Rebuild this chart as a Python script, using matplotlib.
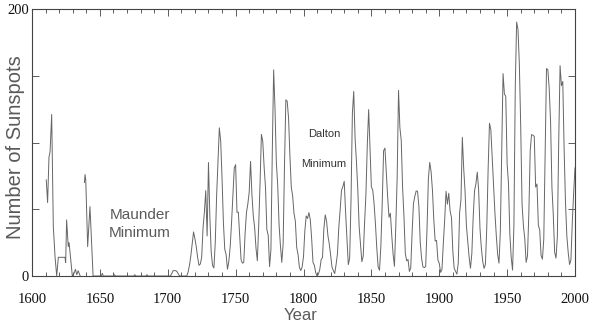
import numpy as np
import matplotlib.pyplot as plt

# Early telescopic era (irregular sampling, NaN = gap in the record)
early_years = [1610.5, 1611.5, 1612.5, 1613.3, 1614.5, 1615.7, 1617.0, 1618.2,
               1619.4, 1624.3, 1624.8, 1625.5, 1626.7, 1627.3, 1628.0, 1629.7,
               1631.0, 1632.0, 1633.0, 1634.0, 1635.5, 1636.5,
               1638.6, 1639.1, 1639.6, 1641.0, 1642.7, 1645.0,
               1651.0, 1651.8, 1652.5, 1660.0, 1660.7, 1661.5, 1675.0, 1675.7,
               1676.5, 1684.0, 1684.7, 1685.5, 1699.5]
early_spots = [72, 55, 89, 93, 121, 37, 14, 0,
               14, 14, 10, 42, 22, 25, 18, 0,
               2, 5, 1, 4, 0, np.nan,
               70, 76, 72, 22, 52, 0,
               0, 2, 0, 0, 1, 0, 0, 1,
               0, 0, 1, 0, 0]

# Yearly values 1700-2000
years = np.arange(1700, 2001)
spots = [
    0, 0, 0, 2, 4, 4, 4, 3, 1, 0,                                   # 1700
    0, 0, 0, 0, 0, 3, 8, 15, 24, 33,                                # 1710
    28, 22, 14, 8, 9, 14, 36, 48, 64, 30,                           # 1720
    85, 45, 18, 8, 6, 25, 60, 85, 111, 101,                         # 1730
    73, 40, 20, 16, 5, 11, 22, 40, 60, 80.9,                        # 1740
    83.4, 47.7, 47.8, 30.7, 12.2, 9.6, 10.2, 32.4, 47.6, 54.0,      # 1750
    62.9, 85.9, 61.2, 45.1, 36.4, 20.9, 11.4, 37.8, 69.8, 106.1,    # 1760
    100.8, 81.6, 66.5, 34.8, 30.6, 7.0, 19.8, 92.5, 154.4, 125.9,   # 1770
    84.8, 68.1, 38.5, 22.8, 10.2, 24.1, 82.9, 132.0, 130.9, 118.1,  # 1780
    89.9, 66.6, 60.0, 46.9, 41.0, 21.3, 16.0, 6.4, 4.1, 6.8,        # 1790
    14.5, 34.0, 45.0, 43.1, 47.5, 42.2, 28.1, 10.1, 8.1, 2.5,       # 1800
    0.0, 1.4, 5.0, 12.2, 13.9, 35.4, 45.8, 41.1, 30.1, 23.9,        # 1810
    15.6, 6.6, 4.0, 1.8, 8.5, 16.6, 36.3, 49.6, 64.2, 67.0,         # 1820
    70.9, 47.8, 27.5, 8.5, 13.2, 56.9, 121.5, 138.3, 103.2, 85.7,   # 1830
    64.6, 36.7, 24.2, 10.7, 15.0, 40.1, 61.5, 98.5, 124.7, 96.3,    # 1840
    66.6, 64.5, 54.1, 39.0, 20.6, 6.7, 4.3, 22.7, 54.8, 93.8,       # 1850
    95.8, 77.2, 59.1, 44.0, 47.0, 30.5, 16.3, 7.3, 37.6, 74.0,      # 1860
    139.0, 111.2, 101.6, 66.2, 44.7, 17.0, 11.3, 12.4, 3.4, 6.0,    # 1870
    32.3, 54.3, 59.7, 63.7, 63.5, 52.2, 25.4, 13.1, 6.8, 6.3,       # 1880
    7.1, 35.6, 73.0, 85.1, 78.0, 64.0, 41.8, 26.2, 26.7, 12.1,      # 1890
    9.5, 2.7, 5.0, 24.4, 42.0, 63.5, 53.8, 62.0, 48.5, 43.9,        # 1900
    18.6, 5.7, 3.6, 1.4, 9.6, 47.4, 57.1, 103.9, 80.6, 63.6,        # 1910
    37.6, 26.1, 14.2, 5.8, 16.7, 44.3, 63.9, 69.0, 77.8, 64.9,      # 1920
    35.7, 21.2, 11.1, 5.7, 8.7, 36.1, 79.7, 114.4, 109.6, 88.8,     # 1930
    67.8, 47.5, 30.6, 16.3, 9.6, 33.2, 92.6, 151.6, 136.3, 134.7,   # 1940
    83.9, 69.4, 31.5, 13.9, 4.4, 38.0, 141.7, 190.2, 184.8, 159.0,  # 1950
    112.3, 53.9, 37.6, 27.9, 10.2, 15.1, 47.0, 93.8, 105.9, 105.5,  # 1960
    104.5, 66.6, 68.9, 38.0, 34.5, 15.5, 12.6, 27.5, 92.5, 155.4,   # 1970
    154.6, 140.4, 115.9, 66.6, 45.9, 17.9, 13.4, 29.4, 100.2, 157.6,  # 1980
    142.6, 145.7, 94.3, 54.6, 29.9, 17.5, 8.6, 12.0, 40.0, 62.0,    # 1990
    81.0,                                                           # 2000
]

x_ticks = [1600, 1650, 1700, 1750, 1800, 1850, 1900, 1950, 2000]
y_ticks = [0, 50, 100, 150, 200]
y_tick_labels = ['0', '', '', '', '200']

grey = '#5a5a5a'
frame = '#444444'

fig = plt.figure(figsize=(5.89, 3.32), dpi=100)
ax = fig.add_axes([32 / 589, 56 / 332, 543 / 589, 267 / 332])

ax.plot(early_years, early_spots, color='#666666', linewidth=0.7)
ax.plot(years, spots, color='#666666', linewidth=0.7)

ax.set_xlim(1600, 2000)
ax.set_ylim(0, 200)

ax.set_xticks(x_ticks)
ax.set_xticks(np.arange(1600, 2001, 10), minor=True)
ax.set_yticks(y_ticks)
ax.set_yticklabels(y_tick_labels)

ax.tick_params(axis='both', which='both', direction='in', color=frame,
               top=True, right=True, width=0.6)
ax.tick_params(axis='both', which='major', length=5, labelsize=10.5,
               labelcolor='#111111')
ax.tick_params(axis='x', which='major', pad=12)
ax.tick_params(axis='y', which='major', pad=2)
ax.tick_params(axis='both', which='minor', length=3)
for lab in ax.get_xticklabels() + ax.get_yticklabels():
    lab.set_family('Liberation Serif')

for sp in ax.spines.values():
    sp.set_color(frame)
    sp.set_linewidth(0.8)

fig.text(16 / 589, 1 - 147 / 332, 'Number of Sunspots', rotation=90,
         ha='center', va='center', fontsize=14.5, color=grey,
         family='Liberation Sans')
fig.text(301 / 589, 1 - 315 / 332, 'Year', ha='center', va='center',
         fontsize=12, color=grey, family='Liberation Sans')

ax.text(1679.5, 39, 'Maunder\nMinimum', ha='center', va='center',
        fontsize=11, color=grey, family='Liberation Sans', linespacing=1.35)
ax.text(1815, 106, 'Dalton', ha='center', va='center',
        fontsize=8, color='#333333', family='Liberation Sans')
ax.text(1815, 84, 'Minimum', ha='center', va='center',
        fontsize=8, color='#333333', family='Liberation Sans')

fig.savefig('out.png', dpi=100)
